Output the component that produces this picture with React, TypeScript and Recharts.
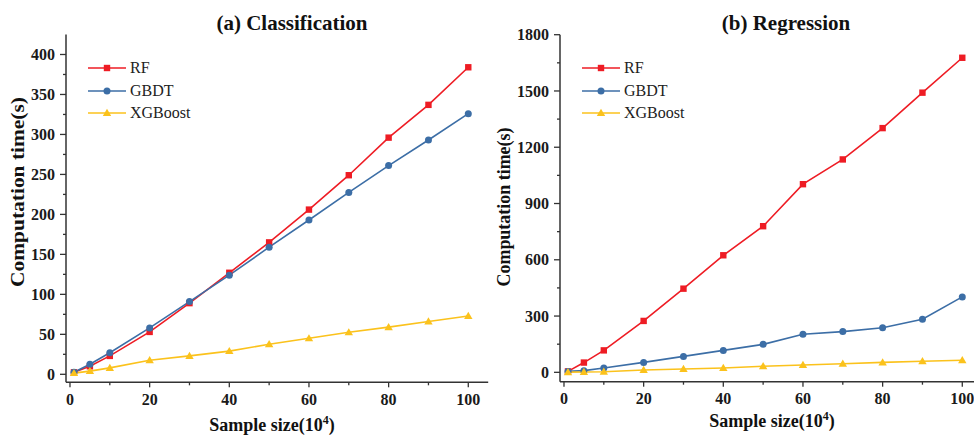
import React from 'react';
import { LineChart, Line, XAxis, YAxis, Legend } from 'recharts';

// sample size in units of 10^4
const SAMPLE_SIZES = [1, 5, 10, 20, 30, 40, 50, 60, 70, 80, 90, 100];

// computation time (s) — classification
const CLS_RF = [2.5, 10, 23, 53, 89, 127, 165, 206, 249, 296, 337, 384];
const CLS_GBDT = [2.5, 12.5, 27, 58, 91, 124, 159, 193, 227.5, 261, 293, 326];
const CLS_XGB = [1.5, 4, 8, 17.5, 23, 29, 37.5, 45, 52.5, 59, 66, 73];

// computation time (s) — regression
const REG_RF = [5, 52, 117, 274, 446, 624, 779, 1003, 1135, 1302, 1491, 1677];
const REG_GBDT = [5, 9, 23, 53, 85, 117, 149, 203, 217, 238, 283, 402];
const REG_XGB = [1, 2, 3, 12, 18, 23, 32, 39, 46, 53, 59, 64];

const X_TICKS = [0, 10, 20, 30, 40, 50, 60, 70, 80, 90, 100];
const CLS_Y_TICKS = [0, 25, 50, 75, 100, 125, 150, 175, 200, 225, 250, 275, 300, 325, 350, 375, 400];
const REG_Y_TICKS = [0, 150, 300, 450, 600, 750, 900, 1050, 1200, 1350, 1500, 1650, 1800];

const FONT = '"Liberation Serif", "Times New Roman", serif';
const AXIS = '#333';

const SERIES = [
  { key: 'rf', name: 'RF', color: '#ee1c24', shape: 'square' },
  { key: 'gbdt', name: 'GBDT', color: '#3c6ea6', shape: 'circle' },
  { key: 'xgb', name: 'XGBoost', color: '#fbc21c', shape: 'triangle' },
];

const toRows = (rf: number[], gbdt: number[], xgb: number[]) =>
  SAMPLE_SIZES.map((x, i) => ({ x, rf: rf[i], gbdt: gbdt[i], xgb: xgb[i] }));

const clsRows = toRows(CLS_RF, CLS_GBDT, CLS_XGB);
const regRows = toRows(REG_RF, REG_GBDT, REG_XGB);

function Marker({ cx, cy, shape, color }: any) {
  if (shape === 'square') return <rect x={cx - 3.2} y={cy - 3.2} width={6.4} height={6.4} fill={color} />;
  if (shape === 'circle') return <circle cx={cx} cy={cy} r={3.5} fill={color} />;
  return <polygon points={`${cx},${cy - 4.2} ${cx + 4.2},${cy + 3} ${cx - 4.2},${cy + 3}`} fill={color} />;
}

// bottom ticks: long + labelled every 20, short in between
const XTick = ({ x, y, payload }: any) => {
  const axisY = y - 11;
  const major = payload.value % 20 === 0;
  return (
    <g>
      <line x1={x} x2={x} y1={axisY} y2={axisY + (major ? 5 : 3)} stroke={AXIS} strokeWidth={1.3} />
      {major && (
        <text x={x} y={y} dy="0.71em" textAnchor="middle" fontFamily={FONT} fontWeight="bold" fontSize={16} fill="#1a1a1a">
          {payload.value}
        </text>
      )}
    </g>
  );
};

const makeYTick = (step: number) => ({ x, y, payload }: any) => {
  const axisX = x + 11;
  const major = payload.value % step === 0;
  return (
    <g>
      <line x1={axisX - (major ? 6 : 3)} x2={axisX} y1={y} y2={y} stroke={AXIS} strokeWidth={1.3} />
      {major && (
        <text x={x} y={y} dy="0.35em" textAnchor="end" fontFamily={FONT} fontWeight="bold" fontSize={16} fill="#1a1a1a">
          {payload.value}
        </text>
      )}
    </g>
  );
};

const LegendBox = () => (
  <div style={{ fontFamily: FONT, fontSize: 16, color: '#222' }}>
    {SERIES.map((s) => (
      <div key={s.key} style={{ display: 'flex', alignItems: 'center', height: 22.5 }}>
        <svg width={40} height={12}>
          <line x1={0} x2={38} y1={6} y2={6} stroke={s.color} strokeWidth={1.5} />
          <Marker cx={19} cy={6} shape={s.shape} color={s.color} />
        </svg>
        <span style={{ marginLeft: 2 }}>{s.name}</span>
      </div>
    ))}
  </div>
);

type PanelProps = {
  left: number;
  width: number;
  title: string;
  titleX: number;
  rows: any[];
  yDomain: [number, number];
  yTicks: number[];
  yStep: number;
  yAxisWidth: number;
  top: number;
  bottom: number;
  right: number;
  yLabel: [number, number, number];
  xLabel: [number, number];
  legendPos: [number, number];
};

function Panel(p: PanelProps) {
  const YTick = makeYTick(p.yStep);
  return (
    <div style={{ position: 'absolute', left: p.left, top: 0, width: p.width, height: 435 }}>
      <div
        style={{
          position: 'absolute', left: p.titleX - 150, top: 8, width: 300, textAlign: 'center',
          fontFamily: FONT, fontWeight: 'bold', fontSize: 21, lineHeight: '30px', color: '#111',
        }}
      >
        {p.title}
      </div>
      <LineChart width={p.width} height={435} data={p.rows} margin={{ top: p.top, right: p.right, bottom: 0, left: 0 }}>
        <XAxis
          dataKey="x" type="number" domain={[-1, 105]} ticks={X_TICKS} interval={0}
          height={p.bottom} tickSize={5} tickMargin={6} tickLine={false} tick={<XTick />}
          axisLine={{ stroke: AXIS, strokeWidth: 1.5 }}
        />
        <XAxis xAxisId="top" orientation="top" type="number" domain={[-1, 105]} height={0} tick={false} tickLine={false} axisLine={{ stroke: AXIS, strokeWidth: 1.5 }} />
        <YAxis
          type="number" domain={p.yDomain} ticks={p.yTicks} interval={0} width={p.yAxisWidth}
          tickSize={6} tickMargin={5} tickLine={false} tick={<YTick />}
          axisLine={{ stroke: AXIS, strokeWidth: 1.5 }}
        />
        <YAxis yAxisId="right" orientation="right" type="number" domain={p.yDomain} width={0} tick={false} tickLine={false} axisLine={{ stroke: AXIS, strokeWidth: 1.5 }} />
        {SERIES.map((s) => (
          <Line
            key={s.key}
            dataKey={s.key}
            name={s.name}
            type="linear"
            stroke={s.color}
            strokeWidth={1.6}
            isAnimationActive={false}
            dot={(d: any) => <Marker key={`${s.key}-${d.index}`} cx={d.cx} cy={d.cy} shape={s.shape} color={s.color} />}
            activeDot={false}
          />
        ))}
        <Legend
          layout="vertical" align="center" verticalAlign="middle"
          content={() => <LegendBox />}
          wrapperStyle={{ left: p.legendPos[0], top: p.legendPos[1], width: 'auto', height: 'auto' }}
        />
        <text
          x={p.yLabel[0]} y={p.yLabel[1]} dy="0.35em" textAnchor="middle"
          transform={`rotate(-90, ${p.yLabel[0]}, ${p.yLabel[1]})`}
          textLength={p.yLabel[2]} lengthAdjust="spacingAndGlyphs"
          fontFamily={FONT} fontWeight="bold" fontSize={18} fill="#111"
        >
          Computation time(s)
        </text>
        <text x={p.xLabel[0]} y={p.xLabel[1]} textAnchor="middle" fontFamily={FONT} fontWeight="bold" fontSize={18} fill="#111">
          Sample size(10<tspan dy={-7} fontSize={12}>4</tspan><tspan dy={7}>)</tspan>
        </text>
      </LineChart>
    </div>
  );
}

export default function App() {
  return (
    <div style={{ position: 'absolute', left: 0, top: 0, width: 974, height: 435, overflow: 'hidden', background: '#fff' }}>
      <Panel
        left={0} width={490} title="(a) Classification" titleX={292}
        rows={clsRows} yDomain={[-10, 425]} yTicks={CLS_Y_TICKS} yStep={50}
        yAxisWidth={66} top={34.5} bottom={52.7} right={1.8}
        yLabel={[18, 192, 190]} xLabel={[272, 431]} legendPos={[88, 57]}
      />
      <Panel
        left={490} width={500} title="(b) Regression" titleX={296}
        rows={regRows} yDomain={[-50, 1800]} yTicks={REG_Y_TICKS} yStep={300}
        yAxisWidth={70} top={34.7} bottom={53.3} right={7.8}
        yLabel={[14, 207, 159]} xLabel={[282, 427]} legendPos={[92, 57]}
      />
    </div>
  );
}
